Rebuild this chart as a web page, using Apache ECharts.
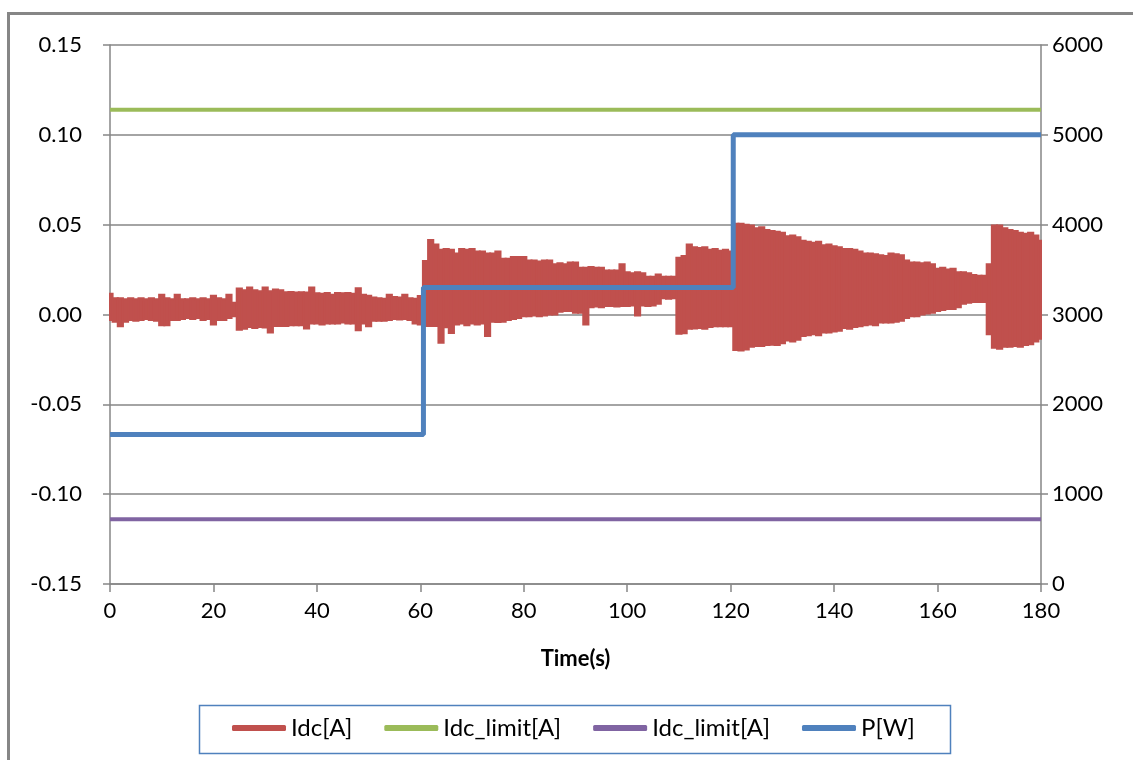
<!DOCTYPE html>
<html><head><meta charset="utf-8">
<script src="https://cdn.jsdelivr.net/npm/echarts@6/dist/echarts.min.js"></script>
<style>html,body{margin:0;padding:0;background:#fff}#c{width:1133px;height:760px}</style>
</head><body><div id="c"></div>
<script>
// time axis (s)
const timeTicks = [0, 20, 40, 60, 80, 100, 120, 140, 160, 180];
// Idc upper envelope per second, t = 0..180 (A)
const idcHigh = [
 0.0115,0.009,0.009,0.0085,0.009,0.0085,0.009,0.0085,0.009,0.0085,
 0.011,0.009,0.0085,0.011,0.0085,0.0085,0.009,0.0085,0.009,0.0085,
 0.0105,0.009,0.0085,0.011,0.0065,0.0145,0.0135,0.015,0.0135,0.013,
 0.015,0.013,0.0139,0.0135,0.0124,0.0125,0.0122,0.0124,0.0122,0.015,
 0.0118,0.0115,0.012,0.011,0.012,0.0118,0.012,0.0115,0.0146,0.011,
 0.0105,0.0095,0.009,0.0088,0.011,0.0098,0.0095,0.011,0.009,0.0088,
 0.0103,0.0298,0.0415,0.039,0.036,0.0365,0.036,0.034,0.0365,0.036,
 0.0365,0.035,0.035,0.034,0.034,0.035,0.031,0.031,0.032,0.032,
 0.032,0.030,0.030,0.0295,0.030,0.030,0.028,0.0285,0.028,0.029,
 0.029,0.026,0.026,0.0265,0.026,0.026,0.0245,0.0245,0.0245,0.028,
 0.0235,0.023,0.0235,0.023,0.021,0.021,0.0223,0.021,0.021,0.021,
 0.0316,0.0325,0.039,0.0375,0.037,0.0375,0.036,0.0365,0.0355,0.036,
 0.035,0.0505,0.0505,0.050,0.0495,0.048,0.0485,0.047,0.0465,0.046,
 0.0455,0.0435,0.044,0.043,0.041,0.0405,0.040,0.0405,0.0385,0.039,
 0.038,0.0375,0.0365,0.0365,0.036,0.035,0.034,0.034,0.0335,0.033,
 0.0325,0.034,0.0335,0.033,0.030,0.029,0.029,0.0285,0.029,0.028,
 0.0255,0.026,0.025,0.0255,0.0235,0.0235,0.023,0.022,0.0215,0.0215,
 0.028,0.0495,0.0495,0.048,0.047,0.0465,0.0455,0.045,0.0455,0.044,
 0.041
];
// Idc lower envelope per second, t = 0..180 (A)
const idcLow = [
 -0.003,-0.004,-0.0065,-0.004,-0.003,-0.0035,-0.003,-0.0025,-0.003,-0.0035,
 -0.006,-0.006,-0.003,-0.003,-0.0025,-0.002,-0.0025,-0.002,-0.003,-0.0025,
 -0.0055,-0.003,-0.003,-0.002,-0.001,-0.0085,-0.008,-0.007,-0.0075,-0.007,
 -0.0073,-0.010,-0.0064,-0.0064,-0.0064,-0.006,-0.006,-0.006,-0.0078,-0.005,
 -0.005,-0.0055,-0.005,-0.005,-0.005,-0.0045,-0.005,-0.005,-0.0087,-0.005,
 -0.0065,-0.0035,-0.0035,-0.0035,-0.003,-0.0025,-0.0028,-0.0025,-0.003,-0.005,
 -0.0055,-0.0064,-0.0064,-0.0064,-0.0157,-0.0071,-0.0103,-0.0055,-0.005,-0.006,
 -0.005,-0.0055,-0.005,-0.012,-0.004,-0.0042,-0.004,-0.003,-0.0025,-0.002,
 -0.001,-0.001,-0.0005,-0.001,-0.0005,0.0,0.0,0.0015,0.002,0.002,
 0.001,0.001,-0.0055,0.004,0.0045,0.004,0.0047,0.0048,0.0045,0.0048,
 0.0047,0.005,-0.0005,0.005,0.0048,0.005,0.006,0.009,0.0088,0.009,
 -0.0107,-0.0105,-0.008,-0.0078,-0.0075,-0.008,-0.007,-0.0066,-0.0066,-0.0065,
 -0.0066,-0.0198,-0.020,-0.0195,-0.018,-0.0175,-0.0175,-0.017,-0.0168,-0.017,
 -0.016,-0.0145,-0.015,-0.014,-0.012,-0.0115,-0.011,-0.0115,-0.010,-0.010,
 -0.0095,-0.009,-0.0075,-0.008,-0.007,-0.0065,-0.006,-0.0055,-0.006,-0.0045,
 -0.0045,-0.0045,-0.004,-0.0035,-0.002,-0.001,-0.001,0.0,0.0005,0.001,
 0.002,0.0025,0.003,0.003,0.004,0.006,0.0065,0.007,0.007,0.007,
 -0.011,-0.0185,-0.019,-0.018,-0.018,-0.0175,-0.018,-0.017,-0.0165,-0.015,
 -0.0135
];
// current limits (A)
const limitTimes = [0, 180];
const limitUpper = [0.114, 0.114];
const limitLower = [-0.114, -0.114];
// power (W)
const pTimes = [0, 60.6, 60.6, 120.5, 120.5, 180];
const pWatts = [1665, 1665, 3300, 3300, 5000, 5000];

const RED = '#C0504D', GREEN = '#9BBB59', PURPLE = '#8064A2', BLUE = '#4F81BD';
const GRID = '#868686';
const FONT = 'Lato, "Liberation Sans", sans-serif';

const idcData = idcHigh.map((v, i) => [i, idcLow[i], v]);
const upperData = limitTimes.map((t, i) => [t, limitUpper[i]]);
const lowerData = limitTimes.map((t, i) => [t, limitLower[i]]);
const pData = pTimes.map((t, i) => [t, pWatts[i]]);

function renderBand(params, api) {
  const t = api.value(0);
  const t0 = Math.max(0, t - 0.5), t1 = Math.min(180, t + 0.5);
  const a = api.coord([t0, api.value(2)]);
  const b = api.coord([t1, api.value(1)]);
  return {
    type: 'rect',
    shape: {x: a[0], y: a[1], width: b[0] - a[0], height: b[1] - a[1]},
    style: {fill: RED, stroke: RED, lineWidth: 2}
  };
}

const chart = echarts.init(document.getElementById('c'), null, {renderer: 'canvas'});
chart.setOption({
  animation: false,
  backgroundColor: '#fff',
  textStyle: {fontFamily: FONT, color: '#000'},
  graphic: [
    {type: 'rect', shape: {x: 8.5, y: 13.5, width: 1200, height: 800},
     style: {fill: 'none', stroke: GRID, lineWidth: 3}, z: -10},
    {type: 'rect', shape: {x: 199.5, y: 705.5, width: 751, height: 48},
     style: {fill: 'none', stroke: BLUE, lineWidth: 1.5}, z: -10}
  ],
  grid: {left: 110, right: 92, top: 45, bottom: 176},
  legend: {
    left: 232, top: 716, padding: 0, itemGap: 32,
    icon: 'roundRect', itemWidth: 54, itemHeight: 6,
    textStyle: {fontFamily: FONT, fontSize: 24, color: '#000'},
    data: ['Idc[A]', 'Idc_limit[A] upper', 'Idc_limit[A] lower', 'P[W]'],
    formatter: n => n.replace(/ (upper|lower)$/, '')
  },
  xAxis: {
    type: 'value', min: 0, max: 180, interval: 20,
    axisLine: {onZero: false, lineStyle: {color: GRID, width: 1.5}},
    axisTick: {show: true, length: 8, lineStyle: {color: GRID, width: 1.5}},
    axisLabel: {fontSize: 22, fontFamily: FONT, color: '#000', margin: 16},
    splitLine: {show: false},
    name: 'Time(s)', nameLocation: 'middle', nameGap: 64,
    nameTextStyle: {fontSize: 22, fontWeight: 'bold', fontFamily: FONT, color: '#000'}
  },
  yAxis: [
    {
      type: 'value', min: -0.15, max: 0.15, interval: 0.05,
      axisLine: {show: true, onZero: false, lineStyle: {color: GRID, width: 1.5}},
      axisTick: {show: true, length: 7, lineStyle: {color: GRID, width: 1.5}},
      axisLabel: {fontSize: 22, fontFamily: FONT, color: '#000', margin: 28,
        formatter: v => (Math.abs(v) < 1e-9 ? 0 : v).toFixed(2)},
      splitLine: {show: true, lineStyle: {color: GRID, width: 1.5}}
    },
    {
      type: 'value', min: 0, max: 6000, interval: 1000, position: 'right',
      axisLine: {show: true, onZero: false, lineStyle: {color: GRID, width: 1.5}},
      axisTick: {show: true, length: 7, lineStyle: {color: GRID, width: 1.5}},
      axisLabel: {fontSize: 22, fontFamily: FONT, color: '#000', margin: 11,
        formatter: v => String(Math.round(v))},
      splitLine: {show: false}
    }
  ],
  series: [
    {
      name: 'Idc[A]', type: 'custom', data: idcData, yAxisIndex: 0,
      encode: {x: 0, y: [1, 2]}, renderItem: renderBand,
      itemStyle: {color: RED}, z: 2
    },
    {
      name: 'Idc_limit[A] upper', type: 'line', data: upperData, symbol: 'none', yAxisIndex: 0,
      lineStyle: {color: GREEN, width: 4}, itemStyle: {color: GREEN}, z: 3
    },
    {
      name: 'Idc_limit[A] lower', type: 'line', data: lowerData, symbol: 'none', yAxisIndex: 0,
      lineStyle: {color: PURPLE, width: 4}, itemStyle: {color: PURPLE}, z: 3
    },
    {
      name: 'P[W]', type: 'line', data: pData, symbol: 'none', yAxisIndex: 1,
      lineStyle: {color: BLUE, width: 5}, itemStyle: {color: BLUE}, z: 4
    }
  ]
});
</script>
</body></html>
